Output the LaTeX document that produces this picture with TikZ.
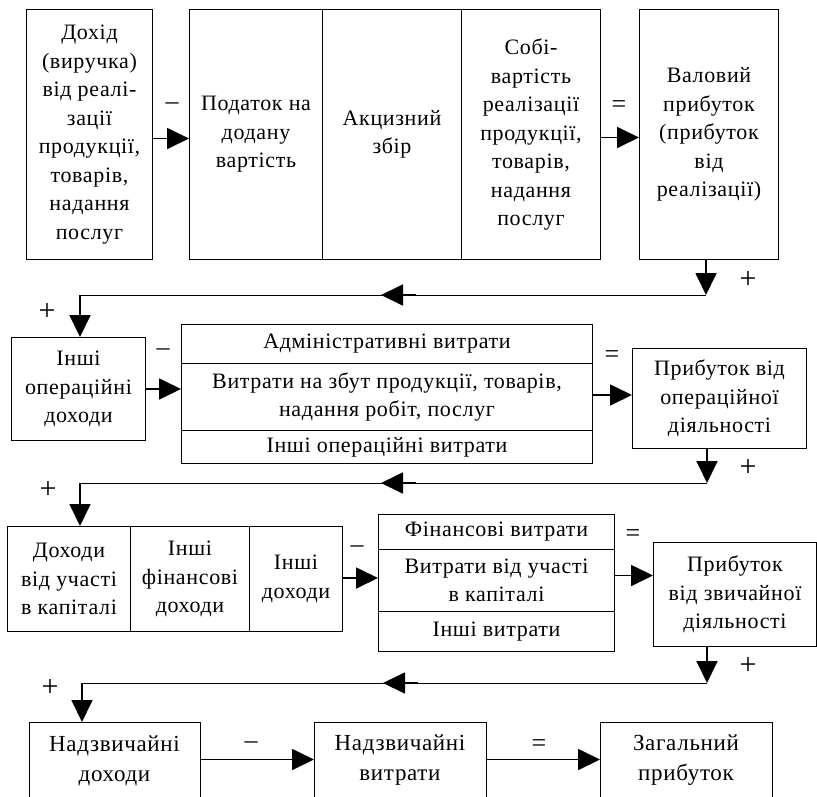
\documentclass[tikz,border=0pt]{standalone}
\usepackage{fontspec}
\setmainfont{Liberation Serif}[LetterSpace=3]
\usetikzlibrary{arrows.meta,calc}
\newcommand\dfont{\fontsize{22}{28.5}\selectfont}
\newcommand\bfontr{\fontsize{23}{30}\selectfont}
\newcommand\sfontr{\fontsize{26}{28}\selectfont}
\newcommand\pfontr{\fontsize{30}{32}\selectfont}
\begin{document}
\begin{tikzpicture}[x=1pt,y=-1pt,
  box/.style={draw,line width=1pt,inner sep=0pt,align=center,font=\dfont,anchor=north west},
  openbox/.style={box,draw=none,font=\bfontr},
  sign/.style={font=\sfontr,inner sep=0pt},
  plus/.style={font=\pfontr,inner sep=0pt},
  arr/.style={line width=1.8pt,-{Triangle[length=22pt,width=21pt]}},
  conn/.style={line width=1pt}
]
\useasboundingbox (0,0) rectangle (817,796);
% ---------- row 1
\node[box,minimum width=126,minimum height=250] (A) at (26,9) {Дохід\\(виручка)\\від реалі-\\зації\\продукції,\\товарів,\\надання\\послуг};
\node[box,minimum width=133,minimum height=250] (B1) at (189,9) {Податок на\\додану\\вартість};
\node[box,minimum width=139,minimum height=250] (B2) at (322,9) {Акцизний\\збір};
\node[box,minimum width=139,minimum height=250] (B3) at (461,9) {Собі-\\вартість\\реалізації\\продукції,\\товарів,\\надання\\послуг};
\node[box,minimum width=139,minimum height=250] (C) at (639,9) {Валовий\\прибуток\\(прибуток\\від\\реалізації)};
\draw[arr] ([yshift=-4pt]A.east) -- ([yshift=-4pt]B1.west);
\draw[arr] ([yshift=-3pt]B3.east) -- ([yshift=-3pt]C.west);
\node[sign] (s1) at (172,106) {–};
\node[sign] (s2) at (619,107) {=};
\coordinate (r1) at (706,295);
\coordinate (l1) at (80,295);
\coordinate (h1) at (381,295);
\coordinate (t1) at (416,295);
% ---------- row 2
\node[box,minimum width=134,minimum height=103] (D) at (11,337) {Інші\\операційні\\доходи};
\node[box,minimum width=411,minimum height=39] (E1) at (181,324) {Адміністративні витрати};
\node[box,minimum width=411,minimum height=67] (E2) at (181,363) {Витрати на збут продукції, товарів,\\надання робіт, послуг};
\node[box,minimum width=411,minimum height=33] (E3) at (181,430) {Інші операційні витрати};
\node[box,minimum width=174,minimum height=100] (F) at (632,348) {Прибуток від\\операційної\\діяльності};
\draw[arr] (C.south -| r1) -- (r1);
\draw[conn] (r1) -- (l1);
\draw[arr] (t1) -- (h1);
\draw[arr] (l1) -- (l1 |- D.north);
\node[plus] (p1) at (748,280) {+};
\node[plus] (p2) at (47,312) {+};
\draw[arr] (D.east) -- (D.east -| E2.west);
\draw[arr] ([yshift=2pt]E2.east) -- ([yshift=2pt]E2.east -| F.west);
\node[sign] (s3) at (163,352) {–};
\node[sign] (s4) at (612,357) {=};
\coordinate (r2) at (707,483);
\coordinate (l2) at (80,483);
\coordinate (h2) at (381,483);
\coordinate (t2) at (416,483);
% ---------- row 3
\node[box,minimum width=123,minimum height=105] (G1) at (7,526) {Доходи\\від участі\\в капіталі};
\node[box,minimum width=119,minimum height=105] (G2) at (130,526) {Інші\\фінансові\\доходи};
\node[box,minimum width=93,minimum height=105] (G3) at (249,526) {Інші\\доходи};
\node[box,minimum width=236,minimum height=35] (H1) at (378,514) {Фінансові витрати};
\node[box,minimum width=236,minimum height=62] (H2) at (378,549) {Витрати від участі\\в капіталі};
\node[box,minimum width=236,minimum height=40] (H3) at (378,611) {Інші витрати};
\node[box,minimum width=163,minimum height=104] (I) at (653,542) {Прибуток\\від звичайної\\діяльності};
\draw[arr] (F.south -| r2) -- (r2);
\draw[conn] (r2) -- (l2);
\draw[arr] (t2) -- (h2);
\draw[arr] (l2) -- (l2 |- G1.north);
\node[plus] (p3) at (748,468) {+};
\node[plus] (p4) at (48,490) {+};
\draw[arr] ([yshift=1pt]G3.east) -- ([yshift=1pt]G3.east -| H2.west);
\draw[arr] ([yshift=5pt]H2.east) -- ([yshift=5pt]H2.east -| I.west);
\node[sign] (s5) at (357,549) {–};
\node[sign] (s6) at (633,536) {=};
\coordinate (r3) at (707,683);
\coordinate (l3) at (82,683);
\coordinate (h3) at (383,683);
\coordinate (t3) at (418,683);
% ---------- row 4
\node[openbox,minimum width=170,minimum height=76] (J) at (29,722) {Надзвичайні\\доходи};
\node[openbox,minimum width=171,minimum height=76] (K) at (314,722) {Надзвичайні\\витрати};
\node[openbox,minimum width=171,minimum height=76] (L) at (600,722) {Загальний\\прибуток};
\foreach \n in {J,K,L}{\draw[conn] (\n.south west) -- (\n.north west) -- (\n.north east) -- (\n.south east);}
\draw[arr] (I.south -| r3) -- (r3);
\draw[conn] (r3) -- (l3);
\draw[arr] (t3) -- (h3);
\draw[arr] (l3) -- (l3 |- J.north);
\node[plus] (p5) at (748,666) {+};
\node[plus] (p6) at (50,688) {+};
\draw[arr] ([yshift=1pt]J.east) -- ([yshift=1pt]K.west);
\draw[arr] ([yshift=1pt]K.east) -- ([yshift=1pt]L.west);
\node[sign] (s7) at (251,745) {–};
\node[sign] (s8) at (539,746) {=};
\end{tikzpicture}
\end{document}
